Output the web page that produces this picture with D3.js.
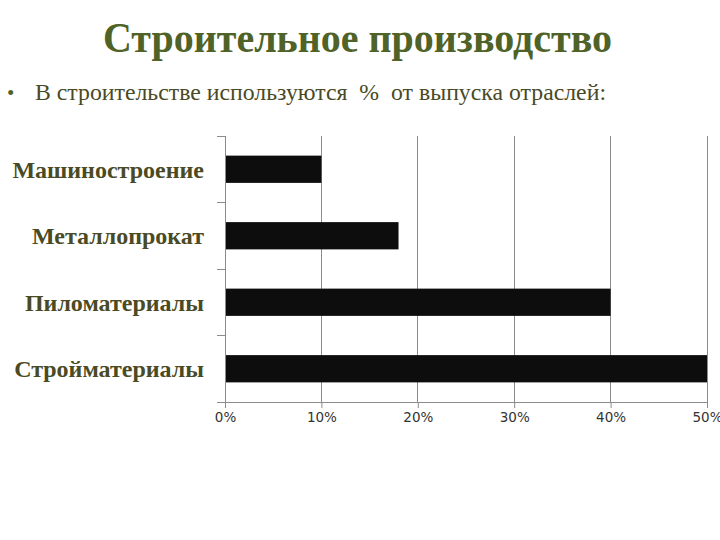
<!DOCTYPE html>
<html><head><meta charset="utf-8">
<script src="https://cdn.jsdelivr.net/npm/d3@7"></script>
<style>body{margin:0;background:#fff}</style>
</head><body>
<svg id="c" width="720" height="540"></svg>
<script>
const categories = ["Машиностроение", "Металлопрокат", "Пиломатериалы", "Стройматериалы"];
const values = [10, 18, 40, 50];
const tickValues = [0, 10, 20, 30, 40, 50];
const titleText = "Строительное производство";
const subtitleText = "В строительстве используются  %  от выпуска отраслей:";

const svg = d3.select("#c");
svg.append("rect").attr("width",720).attr("height",540).attr("fill","#fff");

svg.append("text").attr("x",103).attr("y",52)
  .attr("font-family","Liberation Serif, serif").attr("font-weight","bold")
  .attr("font-size",43).attr("textLength",509).attr("lengthAdjust","spacingAndGlyphs")
  .attr("fill","#4f6228").text(titleText);

svg.append("text").attr("x",7).attr("y",100)
  .attr("font-family","Liberation Serif, serif").attr("font-size",21).attr("fill","#4f6228").text("•");
svg.append("text").attr("x",35).attr("y",100).style("white-space","pre")
  .attr("font-family","Liberation Serif, serif").attr("font-size",22.5)
  .attr("textLength",571).attr("lengthAdjust","spacingAndGlyphs")
  .attr("fill","#4a4a24").text(subtitleText);

const pLeft = 225, pRight = 707, pTop = 136, pBottom = 402;
const x = d3.scaleLinear().domain([0,50]).range([pLeft,pRight]);
const y = d3.scaleBand().domain(categories).range([pTop,pBottom]).paddingInner(0.59).paddingOuter(0.295);

// gridlines
svg.append("g").selectAll("line").data(tickValues.slice(1)).join("line")
  .attr("x1",d=>x(d)).attr("x2",d=>x(d)).attr("y1",pTop).attr("y2",pBottom)
  .attr("stroke","#8c8c8c").attr("stroke-width",1).attr("shape-rendering","crispEdges");

// bars
svg.append("g").selectAll("rect").data(categories).join("rect")
  .attr("x",x(0)).attr("y",d=>y(d)).attr("height",y.bandwidth())
  .attr("width",(d,i)=>x(values[i])-x(0)).attr("fill","#0d0d0d");

// y axis line and ticks
const band = (pBottom-pTop)/categories.length;
const yTicks = d3.range(categories.length+1).map(i=>pTop+i*band);
svg.append("line").attr("x1",pLeft).attr("x2",pLeft).attr("y1",pTop).attr("y2",pBottom)
  .attr("stroke","#8c8c8c").attr("shape-rendering","crispEdges");
svg.append("g").selectAll("line").data(yTicks).join("line")
  .attr("x1",pLeft-8).attr("x2",pLeft).attr("y1",d=>d).attr("y2",d=>d)
  .attr("stroke","#8c8c8c").attr("shape-rendering","crispEdges");

// category labels
svg.append("g").selectAll("text").data(categories).join("text")
  .attr("x",204).attr("y",d=>y(d)+y.bandwidth()/2).attr("dy","0.35em")
  .attr("text-anchor","end").attr("font-family","Liberation Serif, serif")
  .attr("font-weight","bold").attr("font-size",24).attr("fill","#4a4a24").text(d=>d);

// x axis
const xAxis = d3.axisBottom(x).tickValues(tickValues).tickFormat(d=>d+"%").tickSize(6).tickSizeOuter(0);
const gx = svg.append("g").attr("transform",`translate(0,${pBottom})`).call(xAxis);
gx.select(".domain").attr("d",`M${pLeft-8},0.5H${pRight}`).attr("stroke","#8c8c8c");
gx.selectAll(".tick line").attr("stroke","#8c8c8c");
gx.selectAll(".tick text").attr("font-family","DejaVu Sans, sans-serif").attr("font-size",13.5).attr("fill","#333").attr("dy","0.8em");
</script>
</body></html>
